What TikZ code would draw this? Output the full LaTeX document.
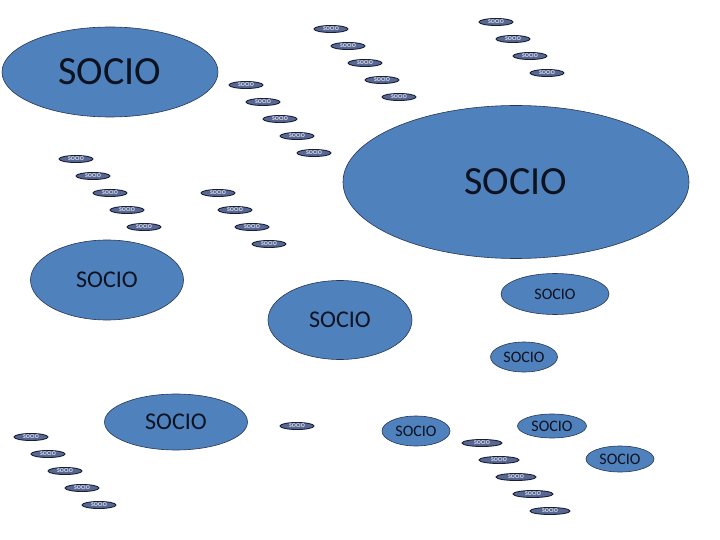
\documentclass[tikz,border=0pt]{standalone}
\usepackage{fontspec}
\setmainfont{Carlito}
\usetikzlibrary{shapes.geometric}
\definecolor{socioblue}{RGB}{79,129,189}
\definecolor{sociorim}{RGB}{40,55,85}
\definecolor{sociotext}{RGB}{12,18,32}
\definecolor{minifill}{RGB}{88,104,146}
\definecolor{minirim}{RGB}{22,30,58}

\tikzset{
    socio/.style={ellipse, draw=sociorim, line width=0.6pt, fill=socioblue,
        text=sociotext, inner sep=0pt},
    mini/.style={ellipse, draw=minirim, line width=0.9pt, fill=minifill,
        text=white!80!minifill, inner sep=0pt, minimum width=34pt,
        minimum height=7pt, font=\fontsize{6}{6}\selectfont\bfseries}
}

\begin{document}
\begin{tikzpicture}[x=1pt, y=-1pt]
    \useasboundingbox (0,0) rectangle (720,540);

    % grandes
    \node[socio, minimum width=216pt, minimum height=90pt, font=\fontsize{40}{40}\selectfont] (s1) at (110,72) {SOCIO};
    \node[socio, minimum width=346pt, minimum height=153pt, font=\fontsize{40}{40}\selectfont] (s2) at (516,182) {SOCIO};

    % medianos
    \node[socio, minimum width=153pt, minimum height=80pt, font=\fontsize{24}{24}\selectfont] (s3) at (107,280) {SOCIO};
    \node[socio, minimum width=144pt, minimum height=79pt, font=\fontsize{24}{24}\selectfont] (s4) at (340,320) {SOCIO};
    \node[socio, minimum width=143pt, minimum height=56pt, font=\fontsize{24}{24}\selectfont] (s5) at (176,422) {SOCIO};

    % chicos
    \foreach \n/\x/\y/\w/\h in {6/555/294/108/41, 7/524/357/67/30, 8/552/426/69/24,
                                9/416/431/68/30, 10/620/459/68/26} {
        \node[socio, minimum width=\w pt, minimum height=\h pt, font=\fontsize{16}{16}\selectfont] (s\n) at (\x,\y) {SOCIO};
    }

    % escaleras de mini socios
    \foreach \g/\x/\y/\k in {a/331/29/5, b/496/22/4, c/246/85/5, d/76/159/5,
                             e/218/193/4, f/31/437/5, g/297/426/1} {
        \foreach \i in {1,...,\k} {
            \node[mini] (\g\i) at ({\x+17*(\i-1)},{\y+17*(\i-1)}) {SOCIO};
        }
    }
    \foreach \i in {1,...,5} {
        \node[mini, minimum width=40pt] (h\i) at ({482+17*(\i-1)},{443+17*(\i-1)}) {SOCIO};
    }
\end{tikzpicture}
\end{document}
